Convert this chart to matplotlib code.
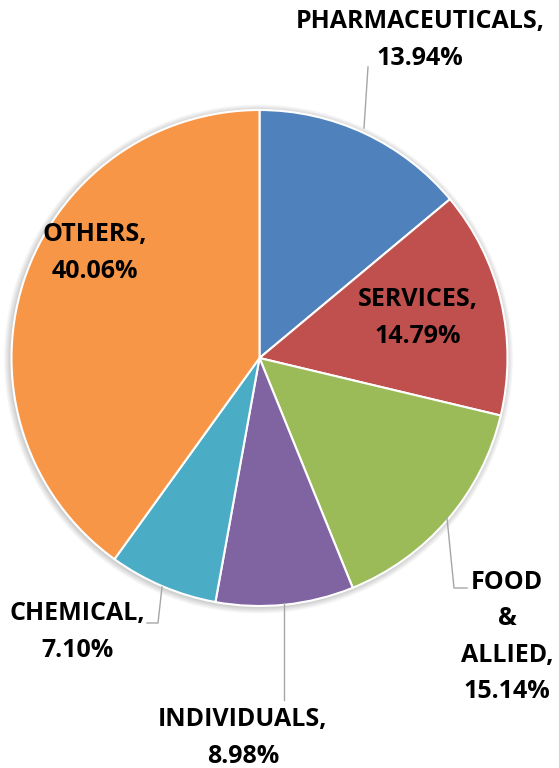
import matplotlib
matplotlib.use("Agg")
import matplotlib.pyplot as plt
from matplotlib.patches import Circle

categories = ["PHARMACEUTICALS", "SERVICES", "FOOD\n&\nALLIED", "INDIVIDUALS", "CHEMICAL", "OTHERS"]
shares = [13.94, 14.79, 15.14, 8.98, 7.10, 40.06]
colors = ["#4F81BD", "#C0504D", "#9BBB59", "#8064A2", "#4BACC6", "#F79646"]

W, H = 559, 768
fig = plt.figure(figsize=(W / 100, H / 100), dpi=100)
ax = fig.add_axes([0, 0, 1, 1])
ax.set_xlim(0, W)
ax.set_ylim(0, H)
ax.set_aspect("equal")
ax.axis("off")

cx, cy, r = 259.5, H - 358, 248

# soft shadow
for i in range(8):
    ax.add_patch(Circle((cx - 1, cy - 1), r + 1 + i * 0.8, color="#000000",
                        alpha=0.025, lw=0, zorder=0))

ax.pie(shares, colors=colors, startangle=90, counterclock=False,
       center=(cx, cy), radius=r, frame=True,
       wedgeprops=dict(edgecolor="white", linewidth=1.5))
ax.set_xlim(0, W)
ax.set_ylim(0, H)
ax.axis("off")

font = dict(family="Open Sans", fontweight="bold", fontsize=18, color="black",
            ha="center", va="center", linespacing=1.6)

def lbl(i):
    return f"{categories[i]},\n{shares[i]:.2f}%"

# label positions (pixel coords, top-origin)
pos = [(420, 40), (418, 318), (507, 637), (243, 738), (77, 632), (95, 253)]
for i, (x, y) in enumerate(pos):
    ax.text(x, H - y, lbl(i), **font)

line = dict(color="#A6A6A6", lw=1.0, zorder=5)
leaders = [
    [(364, 128), (368, 67)],
    [(447, 518), (454, 588), (467, 588)],
    [(284, 603), (284, 700)],
    [(162, 587), (158, 623), (147, 623)],
]
for pts in leaders:
    xs = [p[0] for p in pts]
    ys = [H - p[1] for p in pts]
    ax.plot(xs, ys, **line)

fig.savefig("out.png", dpi=100)
